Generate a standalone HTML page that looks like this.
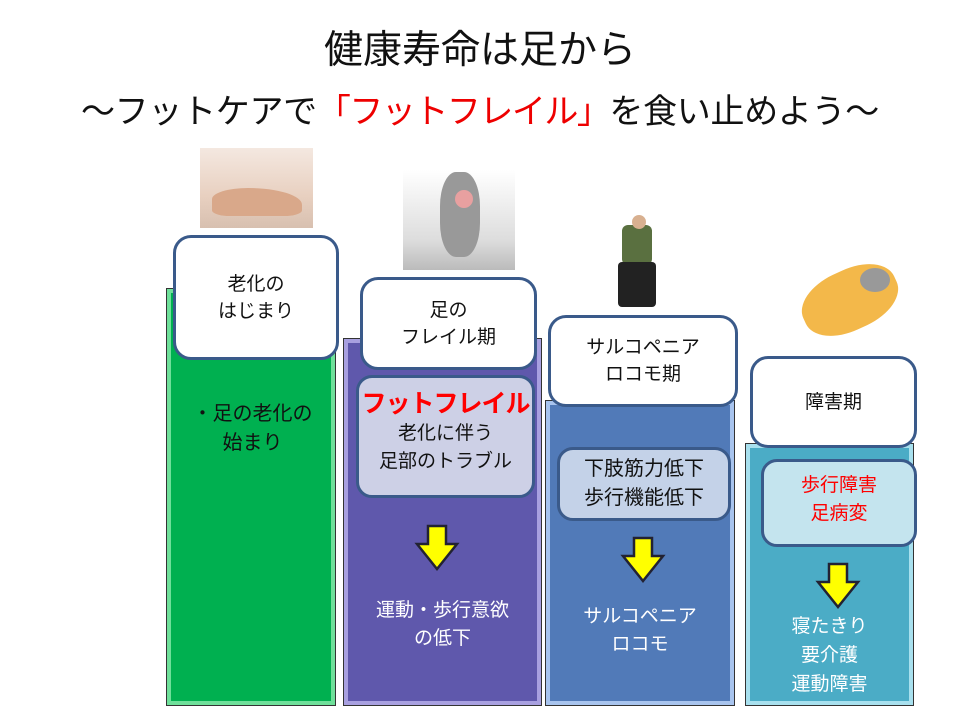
<!DOCTYPE html>
<html><head><meta charset="utf-8"><style>
*{margin:0;padding:0;box-sizing:border-box}
body{width:960px;height:720px;background:#fff;position:relative;overflow:hidden;font-family:"Liberation Sans","Noto Sans CJK JP",sans-serif}
.a{position:absolute}
.t{text-align:center;color:#111}
.col{position:absolute;border:1px solid #333}
.wb{position:absolute;background:#fff;border:3px solid #3a5a8a;border-radius:18px;display:flex;align-items:center;justify-content:center;text-align:center;font-size:19px;line-height:27px;color:#111}
.ib{position:absolute;border:3px solid #3a5a8a;border-radius:16px;text-align:center;color:#111}
</style></head><body>
<div class="a t" style="left:0;width:960px;top:26px;font-size:39px;line-height:50px">健康寿命は足から</div>
<div class="a t" style="left:0;width:960px;top:89px;font-size:34px;line-height:46px;white-space:nowrap;letter-spacing:-0.3px">～フットケアで<span style="color:#e00;letter-spacing:-1.5px">「フットフレイル」</span>を食い止めよう～</div>

<!-- images -->
<div class="a" style="left:200px;top:148px;width:113px;height:80px;background:linear-gradient(#f4e8e0,#e8d0c0 60%,#d8c0b0)"></div>
<div class="a" style="left:212px;top:188px;width:90px;height:28px;background:#d9a88a;border-radius:40% 60% 20% 20%"></div>
<div class="a" style="left:403px;top:170px;width:112px;height:100px;background:linear-gradient(#fff,#ddd 70%,#bbb)"></div>
<div class="a" style="left:440px;top:172px;width:40px;height:85px;background:#999;border-radius:40%"></div>
<div class="a" style="left:455px;top:190px;width:18px;height:18px;background:#e8a0a0;border-radius:50%"></div>
<div class="a" style="left:622px;top:225px;width:30px;height:40px;background:#5a7040;border-radius:6px"></div>
<div class="a" style="left:618px;top:262px;width:38px;height:45px;background:#222;border-radius:4px"></div>
<div class="a" style="left:632px;top:215px;width:14px;height:14px;background:#d8b090;border-radius:50%"></div>
<div class="a" style="left:800px;top:270px;width:100px;height:60px;background:#f3b84a;border-radius:45%;transform:rotate(-25deg)"></div>
<div class="a" style="left:860px;top:268px;width:30px;height:24px;background:#999;border-radius:50%"></div>

<!-- column 1 -->
<div class="col" style="left:166px;top:288px;width:170px;height:418px;background:#00b050;box-shadow:inset 0 0 0 4px #6fe09a"></div>
<div class="wb" style="left:173px;top:235px;width:166px;height:125px">老化の<br>はじまり</div>
<div class="a t" style="left:170px;width:165px;top:400px;font-size:20px;line-height:29px">・足の老化の<br>始まり</div>

<!-- column 2 -->
<div class="col" style="left:343px;top:338px;width:199px;height:368px;background:#5f58ac;box-shadow:inset 0 0 0 4px #a8a0e0"></div>
<div class="wb" style="left:360px;top:277px;width:177px;height:93px">足の<br>フレイル期</div>
<div class="ib" style="left:356px;top:375px;width:179px;height:123px;background:#cdd0e6">
<div style="color:#f00;font-weight:bold;font-size:25px;line-height:32px;margin-top:10px;white-space:nowrap;letter-spacing:-1px">フットフレイル</div>
<div style="font-size:19px;line-height:28px">老化に伴う<br>足部のトラブル</div></div>
<svg class="a" style="left:414px;top:524px" width="46" height="48"><polygon points="14,2 32,2 32,20 43,20 23,45 3,20 14,20" fill="#ff0" stroke="#223" stroke-width="2.5"/></svg>
<div class="a t" style="left:345px;width:195px;top:597px;font-size:19px;line-height:28px;color:#fff">運動・歩行意欲<br>の低下</div>

<!-- column 3 -->
<div class="col" style="left:545px;top:400px;width:190px;height:306px;background:#517ab8;box-shadow:inset 0 0 0 4px #a8c4ee"></div>
<div class="wb" style="left:548px;top:315px;width:190px;height:92px">サルコペニア<br>ロコモ期</div>
<div class="ib" style="left:557px;top:447px;width:174px;height:74px;background:#c4d2e8;font-size:20px;line-height:29px;padding-top:5px">下肢筋力低下<br>歩行機能低下</div>
<svg class="a" style="left:620px;top:536px" width="46" height="48"><polygon points="14,2 32,2 32,20 43,20 23,45 3,20 14,20" fill="#ff0" stroke="#223" stroke-width="2.5"/></svg>
<div class="a t" style="left:545px;width:190px;top:603px;font-size:19px;line-height:28px;color:#fff">サルコペニア<br>ロコモ</div>

<!-- column 4 -->
<div class="col" style="left:745px;top:443px;width:169px;height:263px;background:#4bacc6;box-shadow:inset 0 0 0 4px #a8e0ee"></div>
<div class="wb" style="left:750px;top:356px;width:167px;height:92px">障害期</div>
<div class="ib" style="left:761px;top:459px;width:156px;height:88px;background:#c4e4ee;color:#f00;font-size:19px;line-height:28px;padding-top:10px">歩行障害<br>足病変</div>
<svg class="a" style="left:815px;top:562px" width="46" height="48"><polygon points="14,2 32,2 32,20 43,20 23,45 3,20 14,20" fill="#ff0" stroke="#223" stroke-width="2.5"/></svg>
<div class="a t" style="left:745px;width:169px;top:612px;font-size:19px;line-height:29px;color:#fff">寝たきり<br>要介護<br>運動障害</div>
</body></html>
